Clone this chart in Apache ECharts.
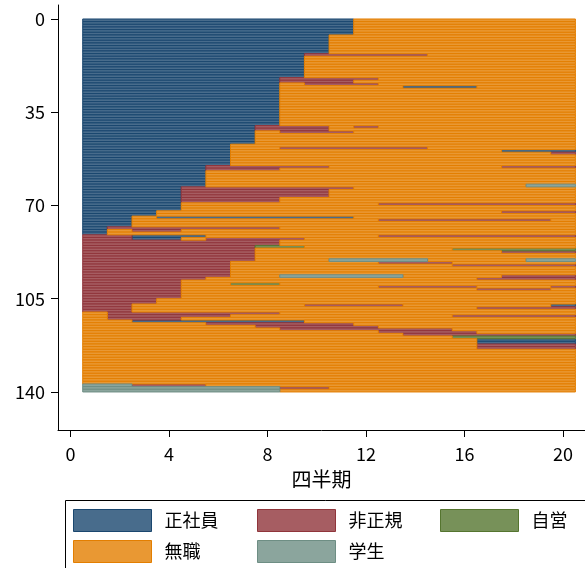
<!DOCTYPE html>
<html>
<head>
<meta charset="utf-8">
<script src="https://cdn.jsdelivr.net/npm/echarts@6/dist/echarts.min.js"></script>
<style>
  html, body { margin: 0; padding: 0; background: #fff; }
  #chart { width: 585px; height: 568px; }
</style>
</head>
<body>
<div id="chart"></div>
<script>
// Employment states, coded 1..5 in the sequences below
const stateNames = ['正社員', '非正規', '自営', '無職', '学生'];
const fillColors = ['#486c8c', '#a65d62', '#779159', '#e99833', '#8ba59d'];
const edgeColors = ['#1a476f', '#90353b', '#55752f', '#e37e00', '#6e8e84'];

// Quarterly state sequences (20 quarters per person), run-length coded as
// "state:quarters"; the second entry is how many consecutive people share it.
const sequenceGroups = [
  ['1:11 4:9', 6],
  ['1:10 4:10', 7],
  ['1:9 2:5 4:6', 1],
  ['1:9 4:11', 8],
  ['1:8 2:4 4:8', 1],
  ['1:8 2:3 4:9', 1],
  ['1:8 4:1 2:3 4:8', 1],
  ['1:8 4:5 1:3 4:4', 1],
  ['1:8 4:12', 14],
  ['1:7 2:3 4:1 2:1 4:8', 1],
  ['1:7 2:3 4:10', 1],
  ['1:7 4:1 2:3 4:9', 1],
  ['1:7 4:13', 4],
  ['1:6 4:14', 1],
  ['1:6 4:2 2:6 4:6', 1],
  ['1:6 4:11 1:3', 1],
  ['1:6 4:13 2:1', 1],
  ['1:6 4:14', 4],
  ['1:5 2:5 4:7 2:3', 1],
  ['1:5 2:3 4:12', 1],
  ['1:5 4:15', 5],
  ['1:5 4:13 5:2', 1],
  ['1:4 2:7 4:9', 1],
  ['1:4 2:6 4:10', 3],
  ['1:4 2:4 4:12', 2],
  ['1:4 4:8 2:8', 1],
  ['1:4 4:16', 2],
  ['1:3 4:14 2:3', 1],
  ['1:3 4:17', 1],
  ['1:2 4:1 1:8 4:9', 1],
  ['1:2 4:10 2:7 4:1', 1],
  ['1:2 4:18', 2],
  ['1:1 2:7 4:12', 1],
  ['1:1 4:1 2:2 4:16', 1],
  ['1:1 4:19', 1],
  ['2:2 1:3 4:7 2:8', 1],
  ['2:2 1:2 4:1 2:4 4:11', 1],
  ['2:8 4:12', 2],
  ['2:7 3:2 4:11', 1],
  ['2:7 4:8 3:5', 1],
  ['2:7 4:10 2:3', 1],
  ['2:7 4:13', 2],
  ['2:7 4:3 5:4 4:4 5:2', 1],
  ['2:6 4:6 2:3 4:5', 1],
  ['2:6 4:9 2:5', 1],
  ['2:6 4:14', 3],
  ['2:6 4:2 5:5 4:4 2:3', 1],
  ['2:5 4:11 2:4', 1],
  ['2:4 4:16', 1],
  ['2:4 4:2 3:2 4:12', 1],
  ['2:4 4:8 2:4 4:3 2:1', 1],
  ['2:4 4:12 2:3 4:1', 1],
  ['2:4 4:16', 3],
  ['2:3 4:17', 2],
  ['2:2 4:7 2:4 4:6 1:1', 1],
  ['2:2 4:14 2:4', 1],
  ['2:2 4:18', 1],
  ['4:1 2:7 4:12', 1],
  ['4:1 2:5 4:9 2:5', 1],
  ['4:1 2:3 4:16', 1],
  ['4:2 1:7 4:11', 1],
  ['4:5 2:6 4:9', 1],
  ['4:7 2:5 4:8', 1],
  ['4:8 2:7 4:5', 1],
  ['4:12 2:4 4:4', 1],
  ['4:13 2:7', 1],
  ['4:15 3:5', 1],
  ['4:16 1:4', 2],
  ['4:16 2:4', 2],
  ['4:20', 13],
  ['5:2 2:3 4:15', 1],
  ['5:8 2:2 4:10', 1],
  ['5:8 4:12', 1]
];

const xTicks = [0, 4, 8, 12, 16, 20];
const yTicks = [0, 35, 70, 105, 140];

// Expand the groups into one spell list per state: [fromQuarter-0.5, toQuarter+0.5, person]
const spells = stateNames.map(() => []);
let person = 0;
sequenceGroups.forEach(([pattern, count]) => {
  for (let k = 0; k < count; k++) {
    let q = 1;
    pattern.split(' ').forEach(run => {
      const [s, len] = run.split(':').map(Number);
      spells[s - 1].push([q - 0.5, q + len - 0.5, person]);
      q += len;
    });
    person++;
  }
});

const font = '"Noto Sans CJK JP", "Noto Sans", sans-serif';

const series = stateNames.map((name, i) => ({
  type: 'custom',
  name: name,
  data: spells[i],
  encode: { x: [0, 1], y: 2 },
  itemStyle: { color: fillColors[i], borderColor: edgeColors[i], borderWidth: 1 },
  clip: false,
  renderItem: function (params, api) {
    const a = api.coord([api.value(0), api.value(2)]);
    const b = api.coord([api.value(1), api.value(2) + 1]);
    return {
      type: 'rect',
      shape: { x: a[0], y: Math.min(a[1], b[1]), width: b[0] - a[0], height: Math.abs(b[1] - a[1]) },
      style: { fill: fillColors[i], stroke: edgeColors[i], lineWidth: 1 }
    };
  }
}));

// Legend laid out in a 3-column grid inside a framed box
const legendColumns = [73, 257, 440];
const legendRows = [509, 540];
const legends = stateNames.map((name, i) => ({
  orient: 'horizontal',
  left: legendColumns[i % 3],
  top: legendRows[Math.floor(i / 3)],
  padding: 0,
  itemWidth: 78,
  itemHeight: 22,
  icon: 'rect',
  selectedMode: false,
  textStyle: { fontFamily: font, fontSize: 18, color: '#000', padding: [0, 0, 0, 8] },
  data: [{ name: name, itemStyle: { color: fillColors[i], borderColor: edgeColors[i], borderWidth: 1 } }]
}));

const chart = echarts.init(document.getElementById('chart'), null, { renderer: 'canvas' });
chart.setOption({
  animation: false,
  backgroundColor: '#fff',
  grid: { left: 58, top: 5, width: 527, height: 425 },
  xAxis: {
    type: 'value',
    min: -0.503,
    max: 20.89,
    name: '四半期',
    nameLocation: 'middle',
    nameGap: 39,
    nameTextStyle: { fontFamily: font, fontSize: 20, color: '#000' },
    axisLine: { show: true, onZero: false, lineStyle: { color: '#000', width: 1 } },
    axisTick: { show: true, length: 7, customValues: xTicks, lineStyle: { color: '#000' } },
    axisLabel: { customValues: xTicks, fontFamily: font, fontSize: 18, color: '#000', margin: 15 },
    splitLine: { show: false }
  },
  yAxis: {
    type: 'value',
    inverse: true,
    min: -5.255,
    max: 154.28,
    axisLine: { show: true, onZero: false, lineStyle: { color: '#000', width: 1 } },
    axisTick: { show: true, length: 7, customValues: yTicks, lineStyle: { color: '#000' } },
    axisLabel: { customValues: yTicks, fontFamily: font, fontSize: 18, color: '#000', margin: 13 },
    splitLine: { show: false }
  },
  legend: legends,
  graphic: [{
    type: 'rect',
    shape: { x: 65.5, y: 500.5, width: 600, height: 120 },
    style: { fill: 'none', stroke: '#000', lineWidth: 1 },
    silent: true
  }],
  series: series
});
</script>
</body>
</html>
